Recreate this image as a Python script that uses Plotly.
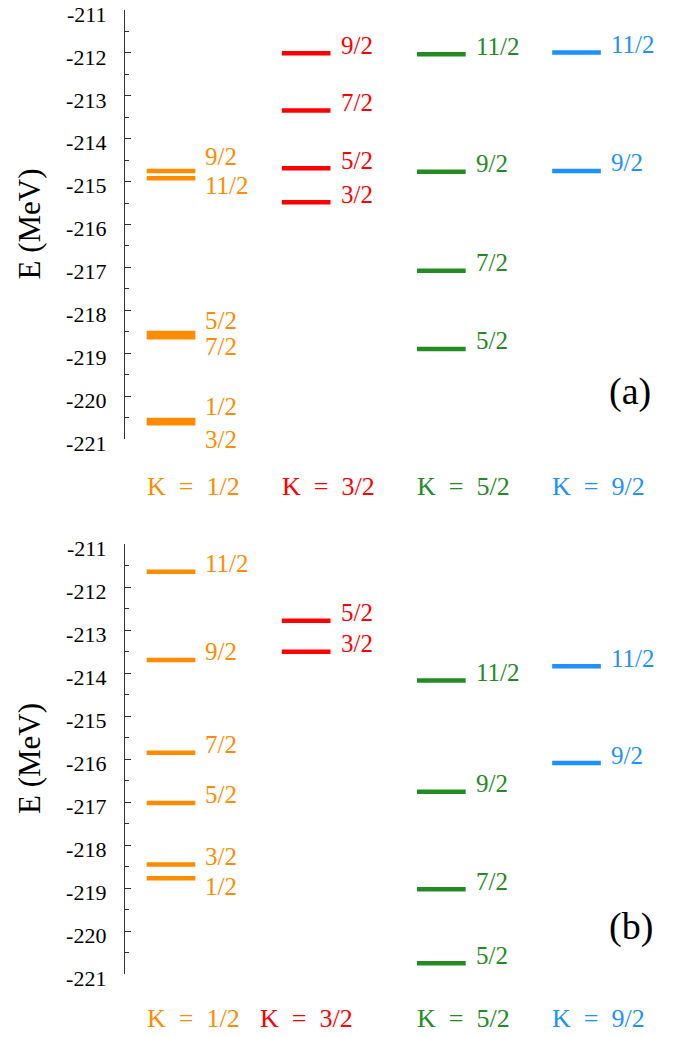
import plotly.graph_objects as go

# ---------------- data ----------------
K_labels = ["K = 1/2", "K = 3/2", "K = 5/2", "K = 9/2"]
colors = ["#FF8C00", "#FF0000", "#228B22", "#1E90FF"]
tick_vals = [-211, -212, -213, -214, -215, -216, -217, -218, -219, -220, -221]
tick_text = ["-211", "-212", "-213", "-214", "-215", "-216", "-217", "-218", "-219", "-220", "-221"]

# Panel (a)
a_K12_J = ["1/2", "3/2", "5/2", "7/2", "9/2", "11/2"]
a_K12_E = [-220.56, -220.63, -218.53, -218.63, -214.75, -214.92]
a_K32_J = ["3/2", "5/2", "7/2", "9/2"]
a_K32_E = [-215.48, -214.69, -213.34, -212.01]
a_K52_J = ["5/2", "7/2", "9/2", "11/2"]
a_K52_E = [-218.90, -217.08, -214.77, -212.03]
a_K92_J = ["9/2", "11/2"]
a_K92_E = [-214.75, -211.99]

# Panel (b)
b_K12_J = ["1/2", "3/2", "5/2", "7/2", "9/2", "11/2"]
b_K12_E = [-218.77, -218.45, -217.02, -215.85, -213.69, -211.64]
b_K32_J = ["3/2", "5/2"]
b_K32_E = [-213.50, -212.78]
b_K52_J = ["5/2", "7/2", "9/2", "11/2"]
b_K52_E = [-220.75, -219.03, -216.76, -214.17]
b_K92_J = ["9/2", "11/2"]
b_K92_E = [-216.09, -213.84]

# ---------------- style ----------------
W, H = 698, 1037
FONT = "Liberation Serif, DejaVu Serif, Times New Roman, serif"
HALF = 0.18          # half-width of a level bar (x units)
LW = 4.5
# label nudges in screen pixels (positive = down), relative to the bar
a_nudge = [{"1/2": -12, "3/2": 18, "5/2": -11, "7/2": 11, "9/2": -12, "11/2": 9}, {}, {}, {}]
b_nudge = [{"1/2": 10}, {}, {}, {}]
DEFAULT_NUDGE = -6
BOX_CORR = 2  # correction between annotation box middle and digit centre

def py(px):
    return 1 - px / H

panels = [
    dict(J=[a_K12_J, a_K32_J, a_K52_J, a_K92_J], E=[a_K12_E, a_K32_E, a_K52_E, a_K92_E],
         nudge=a_nudge, xa="x", ya="y", dom=(10, 439), klab_y=486, klab_dx=[0, 0, 0, 0],
         tag="(a)", tag_xy=(630, 391), title_y=224.5),
    dict(J=[b_K12_J, b_K32_J, b_K52_J, b_K92_J], E=[b_K12_E, b_K32_E, b_K52_E, b_K92_E],
         nudge=b_nudge, xa="x2", ya="y2", dom=(544.3, 974), klab_y=1018, klab_dx=[0, -22, 0, 0],
         tag="(b)", tag_xy=(631, 926), title_y=759),
]

fig = go.Figure()
annotations = []

for p in panels:
    for k, (Js, Es) in enumerate(zip(p["J"], p["E"])):
        for j, e in zip(Js, Es):
            fig.add_trace(go.Scatter(
                x=[k - HALF, k + HALF], y=[e, e], mode="lines",
                line=dict(color=colors[k], width=LW),
                xaxis=p["xa"], yaxis=p["ya"], showlegend=False, hoverinfo="skip"))
            nud = p["nudge"][k].get(j, DEFAULT_NUDGE)
            annotations.append(dict(
                x=k + HALF, y=e, xref=p["xa"], yref=p["ya"], text=j, showarrow=False,
                xanchor="left", yanchor="middle", xshift=8, yshift=-nud + BOX_CORR,
                font=dict(family=FONT, size=25, color=colors[k])))
        annotations.append(dict(
            x=k - HALF, y=py(p["klab_y"]), xref=p["xa"], yref="paper", text=K_labels[k].replace(" = ", "\u2002=\u2002"),
            showarrow=False, xanchor="left", yanchor="middle", xshift=-2 + p["klab_dx"][k],
            font=dict(family=FONT, size=26, color=colors[k])))
    annotations.append(dict(
        x=p["tag_xy"][0] / W, y=py(p["tag_xy"][1]), xref="paper", yref="paper", text=p["tag"],
        showarrow=False, xanchor="center", yanchor="middle",
        font=dict(family=FONT, size=38, color="black")))
    annotations.append(dict(
        x=29 / W, y=py(p["title_y"]), xref="paper", yref="paper", text="E (MeV)", textangle=-90,
        showarrow=False, xanchor="center", yanchor="middle",
        font=dict(family=FONT, size=31, color="black")))

x_left_px = 125
px_per_unit = 135.17
x0 = -(171 - x_left_px) / px_per_unit
x1 = (W - 171) / px_per_unit

def yaxis_cfg(dom, anchor):
    return dict(
        domain=[py(dom[1]), py(dom[0])], range=[-221, -211], anchor=anchor, automargin=False,
        showline=True, linecolor="#333", linewidth=1.3, zeroline=False, showgrid=False,
        tickmode="array", tickvals=tick_vals, ticktext=tick_text,
        ticks="inside", ticklen=6, tickwidth=1.2, tickcolor="#333",
        ticklabelstandoff=13, ticklabeloverflow="allow", ticklabelshift=4,
        tickfont=dict(family=FONT, size=22, color="black"),
        minor=dict(tickmode="array", tickvals=[-220.5 + i for i in range(10)],
                   ticks="inside", ticklen=4, tickwidth=1.2, tickcolor="#333", showgrid=False),
    )

def xaxis_cfg(anchor):
    return dict(domain=[x_left_px / W, 1], range=[x0, x1], visible=False, anchor=anchor,
                automargin=False, showgrid=False, zeroline=False)

fig.update_layout(
    width=W, height=H, margin=dict(l=0, r=0, t=0, b=0, autoexpand=False),
    plot_bgcolor="white", paper_bgcolor="white", showlegend=False,
    font=dict(family=FONT),
    xaxis=xaxis_cfg("y"), xaxis2=xaxis_cfg("y2"),
    yaxis=yaxis_cfg(panels[0]["dom"], "x"), yaxis2=yaxis_cfg(panels[1]["dom"], "x2"),
    annotations=annotations,
)

fig.write_html("out.html")
